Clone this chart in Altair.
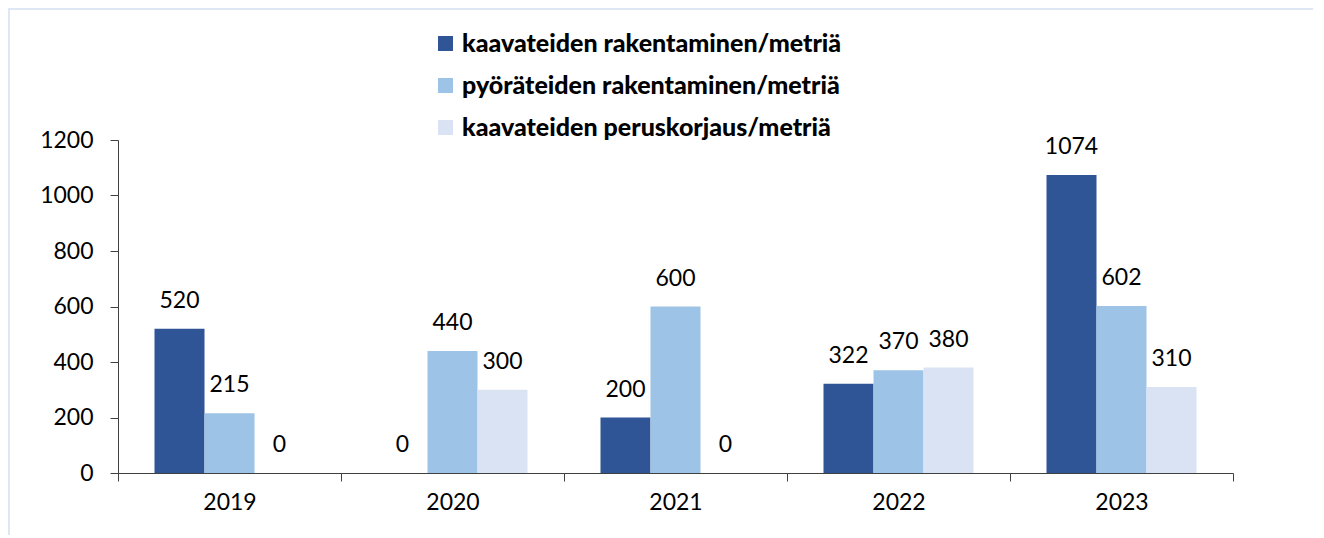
import altair as alt
import pandas as pd

years = ["2019", "2020", "2021", "2022", "2023"]
series = ["kaavateiden rakentaminen/metriä",
          "pyöräteiden rakentaminen/metriä",
          "kaavateiden peruskorjaus/metriä"]
kaava_rak = [520, 0, 200, 322, 1074]
pyora_rak = [215, 440, 600, 370, 602]
kaava_korj = [0, 300, 0, 380, 310]
colors = ["#2F5597", "#9DC3E6", "#DAE3F3"]

rows = []
for i, y in enumerate(years):
    for s, vals in zip(series, [kaava_rak, pyora_rak, kaava_korj]):
        rows.append({"vuosi": y, "sarja": s, "arvo": vals[i]})
df = pd.DataFrame(rows)

FONT = "Lato"
W, H = 1115, 333

x = alt.X("vuosi:N", title=None, sort=years,
          scale=alt.Scale(paddingInner=0, paddingOuter=0),
          axis=alt.Axis(labelAngle=0, tickBand="extent", tickSize=8,
                        labelPadding=10, labelFontSize=23, labelFont=FONT,
                        labelColor="#000000", domainColor="#404040",
                        tickColor="#404040", grid=False))
xo = alt.XOffset("sarja:N", sort=series,
                 scale=alt.Scale(paddingInner=0, paddingOuter=0.73))
y = alt.Y("arvo:Q", title=None,
          scale=alt.Scale(domain=[0, 1200], nice=False),
          axis=alt.Axis(values=[0, 200, 400, 600, 800, 1000, 1200], format="d",
                        tickSize=8, labelPadding=17, labelFontSize=23,
                        labelFont=FONT, labelColor="#000000",
                        domainColor="#404040", tickColor="#404040", grid=False))

bars = alt.Chart(df).mark_bar().encode(
    x=x, xOffset=xo, y=y,
    color=alt.Color("sarja:N", sort=series,
                    scale=alt.Scale(domain=series, range=colors),
                    legend=alt.Legend(title=None, orient="none", legendX=315, legendY=-109,
                                      symbolType="square", symbolSize=225,
                                      symbolStrokeWidth=0, labelFont=FONT,
                                      labelFontSize=25, labelFontWeight=900,
                                      labelColor="#000000", rowPadding=16,
                                      labelOffset=4, labelLimit=600))
)

labels = alt.Chart(df).mark_text(font=FONT, fontSize=23, color="#000000",
                                 baseline="middle", dy=-28).encode(
    x=x, xOffset=xo, y=y, text=alt.Text("arvo:Q")
)

border_top = alt.Chart(df).mark_rule(color="#DDE8F4", strokeWidth=2).encode(
    x=alt.value(-110), x2=alt.value(W + 80), y=alt.value(-131))
border_left = alt.Chart(df).mark_rule(color="#DDE8F4", strokeWidth=2).encode(
    x=alt.value(-109), y=alt.value(-132), y2=alt.value(H + 62))

chart = alt.layer(border_top, border_left, bars, labels).properties(
    width=W, height=H,
    autosize=alt.AutoSizeParams(type="none"),
    padding={"left": 110, "top": 132, "right": 80, "bottom": 62},
).configure(background="#ffffff").configure_view(stroke=None, strokeWidth=0)

chart.save("out.html", embed_options={"renderer": "svg", "actions": False})
